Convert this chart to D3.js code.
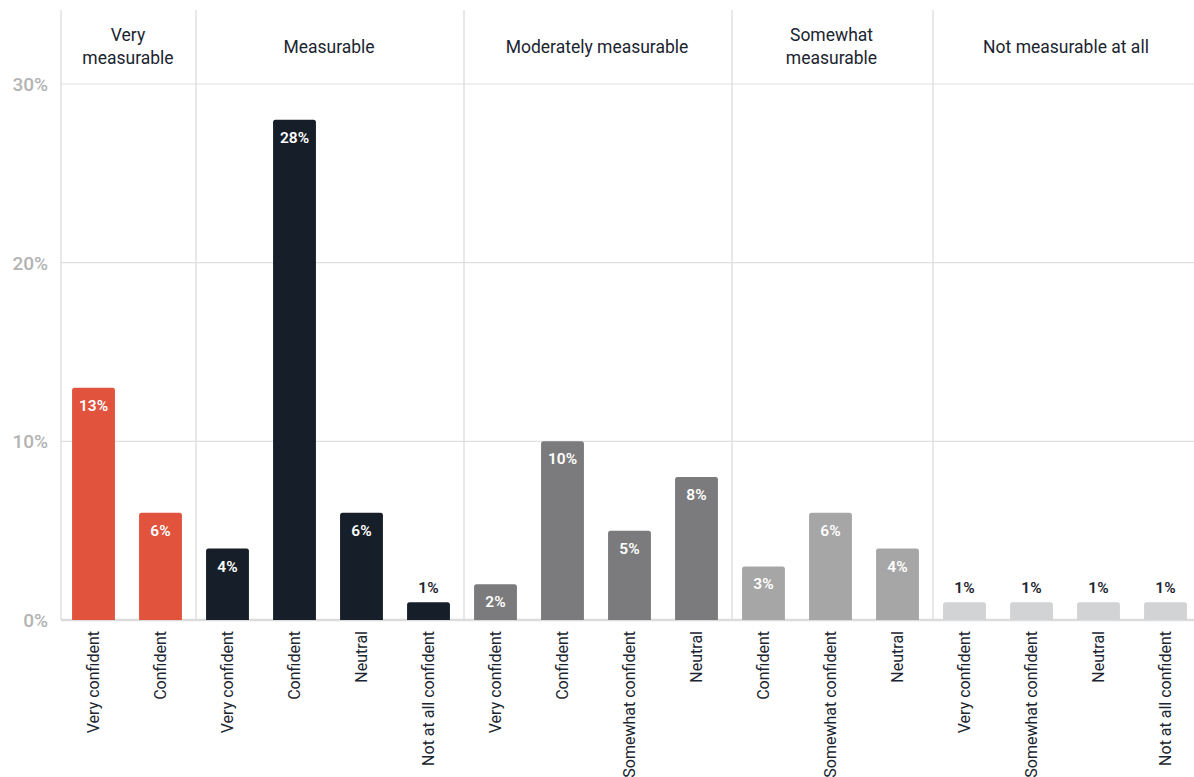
<!DOCTYPE html>
<html><head><meta charset="utf-8">
<script src="https://cdn.jsdelivr.net/npm/d3@7"></script>
<style>body{margin:0;background:#fff;}svg{display:block;font-family:Roboto,"Noto Sans",sans-serif;}</style>
</head><body>
<svg id="c" width="1194" height="777"></svg>
<script>
const groups = ["Very\nmeasurable","Measurable","Moderately measurable","Somewhat\nmeasurable","Not measurable at all"];
const categories = ["Very confident","Confident","Very confident","Confident","Neutral","Not at all confident","Very confident","Confident","Somewhat confident","Neutral","Confident","Somewhat confident","Neutral","Very confident","Somewhat confident","Neutral","Not at all confident"];
const groupOf = [0,0,1,1,1,1,2,2,2,2,3,3,3,4,4,4,4];
const values = [13,6,4,28,6,1,2,10,5,8,3,6,4,1,1,1,1];
const groupColors = ["#e1533d","#161f29","#7b7b7d","#a6a6a6","#d1d3d4"];
const yTicks = [0,10,20,30];

(function(){
const svg = d3.select("#c");
const plotTop = 10, plotBottom = 620, left = 60;
const ids = categories.map((c,i)=>i);
const x = d3.scaleBand().domain(ids).range([left, left + 67*17]).paddingInner(0.36).paddingOuter(0.18);
const y = d3.scaleLinear().domain([0,30]).range([620,84]);

svg.append("g").selectAll("line").data(yTicks).join("line")
  .attr("x1",61).attr("x2",1194).attr("y1",d=>y(d)).attr("y2",d=>y(d))
  .attr("stroke",d=>d===0?"#dcdcdc":"#e0e0e0").attr("stroke-width",d=>d===0?2.5:1.2);
svg.append("g").selectAll("text").data(yTicks).join("text")
  .attr("x",48).attr("y",d=>y(d)+7).attr("text-anchor","end")
  .attr("fill","#b3b3b3").attr("font-size",19).attr("font-weight",500)
  .text(d=>d+"%");

const starts = [];
groupOf.forEach((g,i)=>{ if(i===0||groupOf[i-1]!==g) starts.push(i); });
const step = x.step();
const sepX = starts.map(i=>x.range()[0] + i*step + (i===0?1:2));
svg.append("g").selectAll("line").data(sepX).join("line")
  .attr("x1",d=>d).attr("x2",d=>d).attr("y1",plotTop).attr("y2",plotBottom)
  .attr("stroke","#dcdcdc").attr("stroke-width",1.3);

groups.forEach((g,gi)=>{
  const s = starts[gi], e = gi<starts.length-1?starts[gi+1]:categories.length;
  const cx = x.range()[0] + (s+e)/2*step + 1;
  const lines = g.split("\n");
  const t = svg.append("text").attr("text-anchor","middle").attr("fill","#1b2530").attr("font-size",17.5);
  lines.forEach((l,li)=>{
    t.append("tspan").attr("x",cx).attr("y", lines.length===1?53:41+li*23).text(l);
  });
});

const bars = svg.append("g");
ids.forEach(i=>{
  const v = values[i], c = groupColors[groupOf[i]];
  const bx = x(i), bw = x.bandwidth(), by = y(v), bh = y(0)-y(v);
  const r = 2.5;
  bars.append("path").attr("fill",c)
    .attr("d",`M${bx},${by+bh}V${by+r}Q${bx},${by} ${bx+r},${by}H${bx+bw-r}Q${bx+bw},${by} ${bx+bw},${by+r}V${by+bh}Z`);
  const inside = bh > 25;
  bars.append("text").attr("x",bx+bw/2).attr("y",inside?by+23:by-9)
    .attr("text-anchor","middle").attr("font-size",15.5).attr("font-weight",600)
    .attr("fill",inside?"#ffffff":"#1b2530").text(v+"%");
});

svg.append("g").selectAll("text").data(ids).join("text")
  .attr("transform",i=>`translate(${x(i)+x.bandwidth()/2+5},631) rotate(-90)`)
  .attr("text-anchor","end").attr("fill","#1b2530").attr("font-size",16)
  .text(i=>categories[i]);
})();
</script>
</body></html>
